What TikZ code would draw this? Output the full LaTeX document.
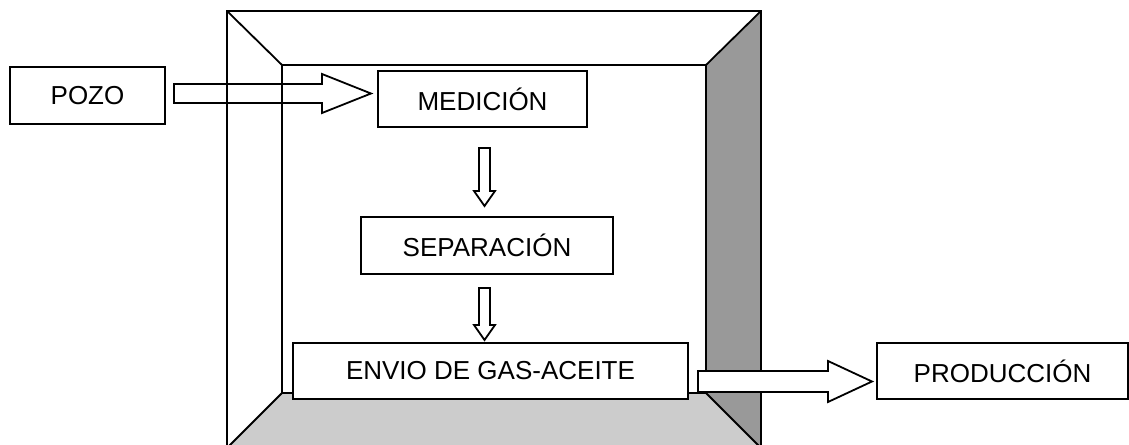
\documentclass[tikz,border=0pt]{standalone}
\usepackage{fontspec}
\setmainfont{Liberation Sans}
\usetikzlibrary{calc}
\definecolor{walldark}{HTML}{999999}
\definecolor{floorlight}{HTML}{CCCCCC}
\tikzset{
  stagebox/.style={draw=black, fill=white, line width=1.35pt, inner sep=0pt, outer sep=0pt,
    font=\fontsize{19.5}{22}\selectfont},
  blk/.style={draw=black, line width=1.35pt, line join=miter},
  frameline/.style={draw=black, line width=1.35pt}
}
\begin{document}
\begin{tikzpicture}[x=0.75pt, y=-0.75pt]
\useasboundingbox (0,0) rectangle (1129,445);
% frame (room)
\fill[walldark] (761,11) -- (706,65) -- (706,393) -- (761,448) -- cycle;
\fill[floorlight] (282,393) -- (706,393) -- (761,448) -- (227,448) -- cycle;
\draw[frameline] (227,448) -- (227,11) -- (761,11) -- (761,448);
\draw[frameline] (282,65) rectangle (706,393);
\draw[frameline] (227,11) -- (282,65);
\draw[frameline] (761,11) -- (706,65);
\draw[frameline] (282,393) -- (227,448);
\draw[frameline] (706,393) -- (761,448);
% nodes
\node[stagebox, minimum width=116.25pt, minimum height=42.75pt] (pozo) at (87.5,95.5) {POZO};
\node[stagebox, minimum width=156.75pt, minimum height=42pt] (medicion) at (482.5,99) {MEDICIÓN};
\node[stagebox, minimum width=189pt, minimum height=42.75pt] (separacion) at (487,245.5) {SEPARACIÓN};
\node[stagebox, minimum width=296.25pt, minimum height=42pt] (envio) at (490.5,371) {ENVIO DE GAS-ACEITE};
\node[stagebox, minimum width=188.25pt, minimum height=42pt] (produccion) at (1002.5,371) {PRODUCCIÓN};
% block arrows
\draw[blk] ($(pozo.east)+(9,-11.5)$) -- ++(148,0) -- ++(0,-10)
  -- ($(medicion.west)+(-7,-5.5)$) -- ++(-49,19.5) -- ++(0,-10) -- ++(-148,0) -- cycle;
\draw[blk, fill=white] ($(medicion.south)+(-3.5,21)$) -- ++(0,43) -- ++(-5,0)
  -- ($(separacion.north)+(-2.5,-11)$) -- ++(10.5,-15) -- ++(-5,0) -- ++(0,-43) -- cycle;
\draw[blk, fill=white] ($(separacion.south)+(-8,14)$) -- ++(0,37) -- ++(-5,0)
  -- ($(envio.north)+(-6,-3)$) -- ++(10.5,-15) -- ++(-5,0) -- ++(0,-37) -- cycle;
\draw[blk, fill=white] ($(envio.east)+(10,0)$) -- ++(130,0) -- ++(0,-10)
  -- ($(produccion.west)+(-5,10.5)$) -- ++(-44,20.5) -- ++(0,-10) -- ++(-130,0) -- cycle;
\end{tikzpicture}
\end{document}
